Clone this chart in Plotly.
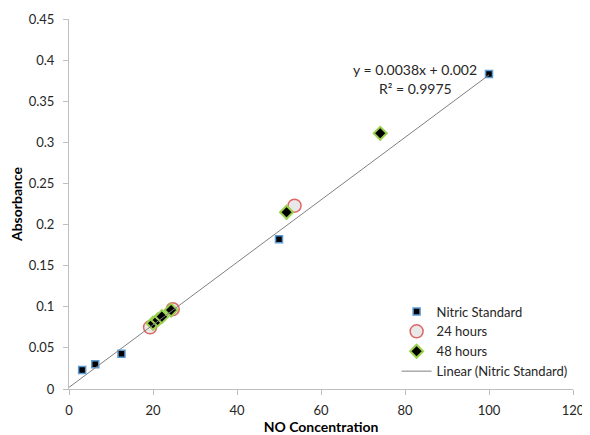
import plotly.graph_objects as go

std_x = [3.125, 6.25, 12.5, 50, 100]
std_y = [0.023, 0.030, 0.043, 0.182, 0.383]
h24_x = [19.3, 24.7, 53.7]
h24_y = [0.075, 0.097, 0.223]
h48_x = [20.0, 21.1, 22.1, 24.3, 51.8, 74.1]
h48_y = [0.080, 0.084, 0.088, 0.096, 0.215, 0.311]
slope, intercept = 0.0038, 0.002
fit_x = [0, 100]
fit_y = [slope * v + intercept for v in fit_x]
eq_text = "y = 0.0038x + 0.002"
r2_text = "R² = 0.9975"

FONT = "Lato, Liberation Sans, sans-serif"
fig = go.Figure()
fig.add_trace(go.Scatter(x=std_x, y=std_y, mode="markers", name="Nitric Standard",
                         marker=dict(symbol="square", size=7, color="black",
                                     line=dict(color="#5b9bd5", width=1.5))))
fig.add_trace(go.Scatter(x=h24_x, y=h24_y, mode="markers", name="24 hours",
                         marker=dict(symbol="circle", size=13, color="rgba(232,232,232,1)",
                                     line=dict(color="#e06666", width=1.5))))
fig.add_trace(go.Scatter(x=h48_x, y=h48_y, mode="markers", name="48 hours",
                         marker=dict(symbol="diamond", size=10, color="black",
                                     line=dict(color="#9bd04f", width=2))))
fig.add_trace(go.Scatter(x=fit_x, y=fit_y, mode="lines", name="Linear (Nitric Standard)",
                         line=dict(color="#808080", width=1)))

fig.add_annotation(x=82.4, y=0.388, xref="x", yref="y", showarrow=False, text=eq_text,
                   font=dict(family=FONT, size=14, color="#262626"))
fig.add_annotation(x=82.4, y=0.366, xref="x", yref="y", showarrow=False, text=r2_text,
                   font=dict(family=FONT, size=14, color="#262626"))

axis_common = dict(showgrid=False, zeroline=False, showline=True, linecolor="#bfbfbf",
                   linewidth=1, ticks="outside", ticklen=5, tickcolor="#bfbfbf",
                   automargin=False,
                   tickfont=dict(family=FONT, size=13, color="#262626"))
fig.update_xaxes(range=[0, 120], dtick=20, ticklabelstandoff=4,
                 title=dict(text="<b>NO Concentration</b>",
                            font=dict(family=FONT, size=14, color="black"), standoff=5),
                 **axis_common)
fig.update_yaxes(range=[0, 0.45], dtick=0.05, ticklabelstandoff=6,
                 title=dict(text="<b>Absorbance</b>",
                            font=dict(family=FONT, size=14, color="black"), standoff=3),
                 **axis_common)

# page body has an 8px margin: figure is offset by (8, 8)
fig.update_layout(width=582, height=427, margin=dict(l=61, r=17, t=11, b=46),
                  plot_bgcolor="white", paper_bgcolor="white",
                  font=dict(family=FONT, size=13, color="#262626"),
                  legend=dict(x=0.65, y=0.25, xanchor="left", yanchor="top",
                              bgcolor="rgba(0,0,0,0)", tracegroupgap=0,
                              itemsizing="trace", itemwidth=30,
                              font=dict(family=FONT, size=13, color="#262626")))
fig.write_html("out.html")
